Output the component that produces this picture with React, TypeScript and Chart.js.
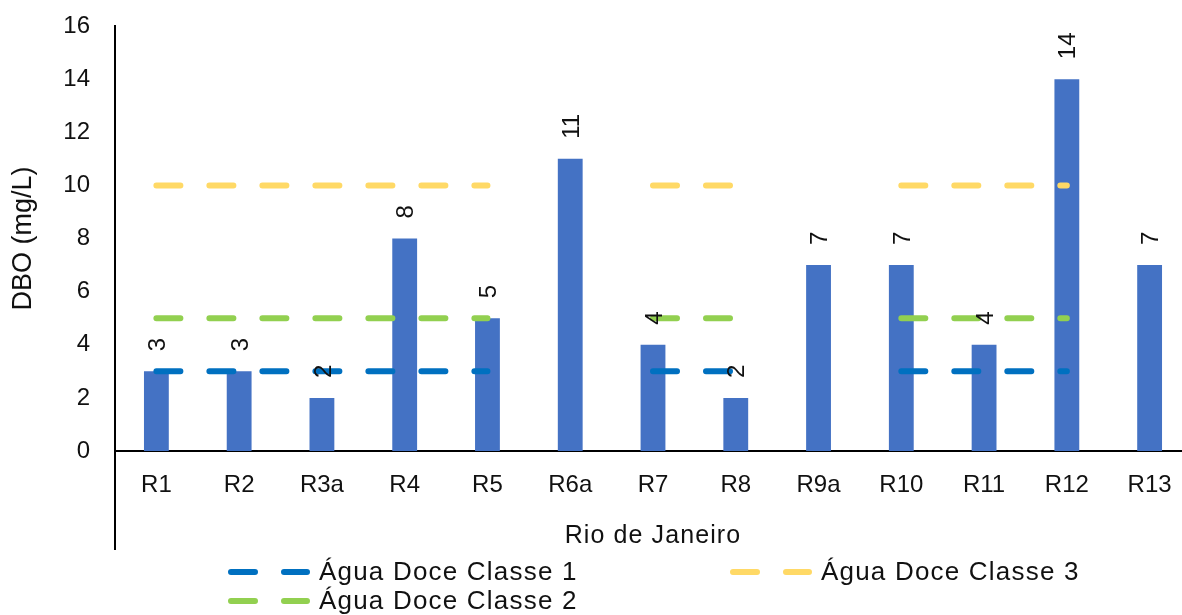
import React, { useEffect, useRef } from 'react';
import { Chart, registerables } from 'chart.js';

Chart.register(...registerables);

const categories = ['R1', 'R2', 'R3a', 'R4', 'R5', 'R6a', 'R7', 'R8', 'R9a', 'R10', 'R11', 'R12', 'R13'];
const dboValues = [3, 3, 2, 8, 5, 11, 4, 2, 7, 7, 4, 14, 7];
const classe1 = [3, 3, 3, 3, 3, null, 3, 3, null, 3, 3, 3, null];
const classe2 = [5, 5, 5, 5, 5, null, 5, 5, null, 5, 5, 5, null];
const classe3 = [10, 10, 10, 10, 10, null, 10, 10, null, 10, 10, 10, null];
const seriesNames = ['Água Doce Classe 1', 'Água Doce Classe 2', 'Água Doce Classe 3'];
const seriesColors = ['#0070C0', '#92D050', '#FFD966'];
const barColor = '#4472C4';
const yTitle = 'DBO (mg/L)';
const xTitle = 'Rio de Janeiro';

const FONT = '"Liberation Sans", Arial, sans-serif';
const TEXT = '#111111';

const overlayPlugin = {
  id: 'overlay',
  afterDatasetsDraw(chart: any) {
    const ctx = chart.ctx;
    const meta = chart.getDatasetMeta(0);
    ctx.save();
    ctx.font = `24px ${FONT}`;
    ctx.fillStyle = TEXT;
    ctx.textAlign = 'left';
    ctx.textBaseline = 'alphabetic';
    meta.data.forEach((el: any, i: number) => {
      ctx.save();
      ctx.translate(el.x + 24 * 0.358, el.y - 20);
      ctx.rotate(-Math.PI / 2);
      ctx.fillText(String(dboValues[i]), 0, 0);
      ctx.restore();
    });
    ctx.restore();
  },
  afterDraw(chart: any) {
    const ctx = chart.ctx;
    const area = chart.chartArea;
    ctx.save();
    ctx.strokeStyle = '#000';
    ctx.lineWidth = 2;
    ctx.beginPath();
    ctx.moveTo(area.left, area.bottom);
    ctx.lineTo(area.left, 550);
    ctx.stroke();

    ctx.fillStyle = TEXT;
    ctx.font = `25px ${FONT}`;
    (ctx as any).letterSpacing = '1.1px';
    ctx.textAlign = 'center';
    ctx.textBaseline = 'alphabetic';
    ctx.fillText(xTitle, (area.left + area.right) / 2, 543);

    const items = [
      { x: 231, y: 572, ty: 580, idx: 0 },
      { x: 733, y: 572, ty: 580, idx: 2 },
      { x: 231, y: 601, ty: 609, idx: 1 },
    ];
    items.forEach((it) => {
      ctx.save();
      ctx.strokeStyle = seriesColors[it.idx];
      ctx.lineWidth = 6;
      ctx.lineCap = 'round';
      ctx.setLineDash([24, 29]);
      ctx.beginPath();
      ctx.moveTo(it.x, it.y);
      ctx.lineTo(it.x + 76, it.y);
      ctx.stroke();
      ctx.restore();
      ctx.fillStyle = TEXT;
      ctx.font = `26px ${FONT}`;
      (ctx as any).letterSpacing = '1.2px';
      ctx.textAlign = 'left';
      ctx.textBaseline = 'alphabetic';
      ctx.fillText(seriesNames[it.idx], it.x + 88, it.ty);
    });
    ctx.restore();
  },
};

export default function App() {
  const canvasRef = useRef<HTMLCanvasElement | null>(null);

  useEffect(() => {
    document.documentElement.style.overflow = 'hidden';
    document.body.style.overflow = 'hidden';
    const canvas = canvasRef.current;
    if (!canvas) return;
    const lineDs = (data: (number | null)[], idx: number) => ({
      type: 'line' as const,
      label: seriesNames[idx],
      data,
      borderColor: seriesColors[idx],
      backgroundColor: seriesColors[idx],
      borderWidth: 6,
      borderDash: [24, 29],
      borderCapStyle: 'round' as const,
      pointRadius: 0,
      pointHoverRadius: 0,
      fill: false,
      spanGaps: false,
      tension: 0,
      order: 1,
    });
    const chart = new Chart(canvas, {
      type: 'bar',
      data: {
        labels: categories,
        datasets: [
          {
            type: 'bar' as const,
            label: 'DBO',
            data: dboValues,
            backgroundColor: barColor,
            borderWidth: 0,
            barPercentage: 0.3,
            categoryPercentage: 1,
            order: 2,
          },
          lineDs(classe1, 0),
          lineDs(classe2, 1),
          lineDs(classe3, 2),
        ] as any,
      },
      options: {
        animation: false,
        responsive: false,
        devicePixelRatio: 1,
        layout: { autoPadding: false, padding: { top: 26, right: 9, bottom: 0, left: 0 } },
        plugins: {
          legend: { display: false },
          tooltip: { enabled: false },
        },
        scales: {
          x: {
            type: 'category',
            offset: true,
            grid: { display: false, drawTicks: false },
            border: { display: true, color: '#000', width: 2 },
            ticks: { font: { family: FONT, size: 24 }, color: TEXT, padding: 20, maxRotation: 0, autoSkip: false },
            afterFit: (s: any) => { s.height = 164; s.paddingLeft = 0; s.paddingRight = 0; },
          },
          y: {
            min: 0,
            max: 16,
            grid: { display: false, drawTicks: false },
            border: { display: true, color: '#000', width: 2 },
            ticks: { stepSize: 2, font: { family: FONT, size: 24 }, color: TEXT, padding: 25 },
            title: { display: true, text: yTitle, font: { family: FONT, size: 27 }, color: TEXT, padding: { top: 7, bottom: 0 } },
            afterFit: (s: any) => { s.width = 115; s.paddingTop = 0; s.paddingBottom = 0; },
          },
        },
      },
      plugins: [overlayPlugin],
    });
    return () => chart.destroy();
  }, []);

  return (
    <div style={{ position: 'fixed', left: 0, top: 0, width: 1200, height: 615, background: '#fff' }}>
      <canvas ref={canvasRef} width={1200} height={615} style={{ display: 'block', width: 1200, height: 615 }} />
    </div>
  );
}
